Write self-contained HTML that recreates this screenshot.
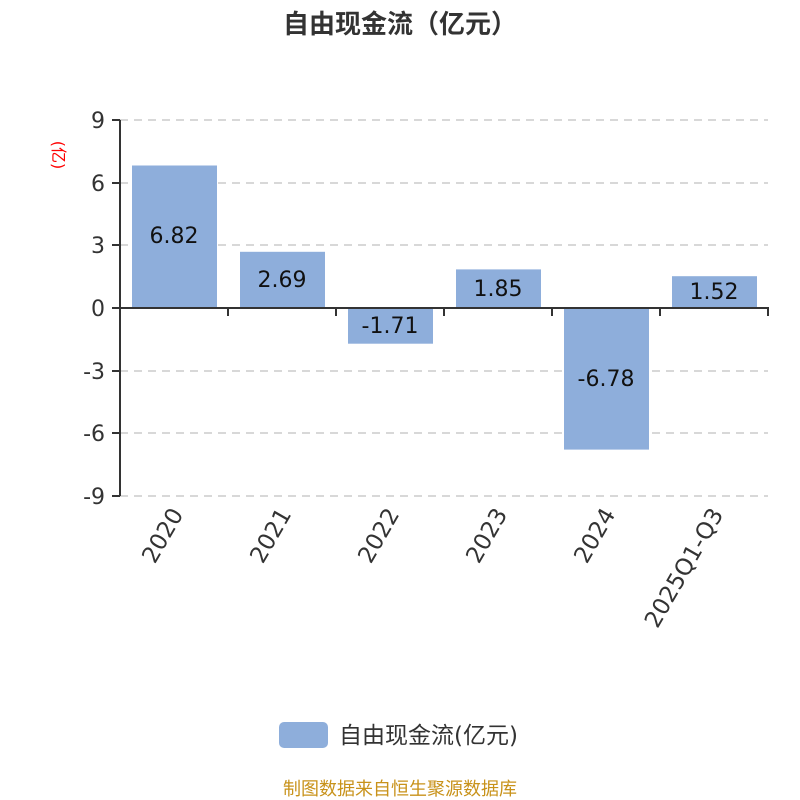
<!DOCTYPE html>
<html><head><meta charset="utf-8"><style>body{margin:0;background:#fff}svg{display:block}</style></head>
<body>
<svg width="800" height="800" xmlns="http://www.w3.org/2000/svg" font-family="DejaVu Sans, Noto Sans CJK SC, sans-serif">
<rect width="800" height="800" fill="#fff"/>
<text x="400" y="33" text-anchor="middle" font-size="26" font-weight="bold" fill="#333">自由现金流（亿元）</text>
<g stroke="#ccc" stroke-width="1.5" stroke-dasharray="8,6">
<line x1="120" y1="120" x2="768" y2="120"/><line x1="120" y1="183" x2="768" y2="183"/><line x1="120" y1="245" x2="768" y2="245"/>
<line x1="120" y1="371" x2="768" y2="371"/><line x1="120" y1="433" x2="768" y2="433"/><line x1="120" y1="496" x2="768" y2="496"/>
</g>
<g fill="#8eaedb">
<rect x="132" y="165.5" width="85" height="142.5"/>
<rect x="240" y="251.8" width="85" height="56.2"/>
<rect x="348" y="308" width="85" height="35.7"/>
<rect x="456" y="269.4" width="85" height="38.6"/>
<rect x="564" y="308" width="85" height="141.6"/>
<rect x="672" y="276.2" width="85" height="31.8"/>
</g>
<g stroke="#333" stroke-width="2">
<line x1="120" y1="120" x2="120" y2="496"/>
<line x1="112" y1="120" x2="120" y2="120"/><line x1="112" y1="183" x2="120" y2="183"/><line x1="112" y1="245" x2="120" y2="245"/><line x1="112" y1="308" x2="120" y2="308"/><line x1="112" y1="371" x2="120" y2="371"/><line x1="112" y1="433" x2="120" y2="433"/><line x1="112" y1="496" x2="120" y2="496"/>
<line x1="120" y1="308" x2="769" y2="308"/>
<line x1="228" y1="308" x2="228" y2="316"/><line x1="336" y1="308" x2="336" y2="316"/><line x1="444" y1="308" x2="444" y2="316"/><line x1="552" y1="308" x2="552" y2="316"/><line x1="660" y1="308" x2="660" y2="316"/><line x1="768" y1="308" x2="768" y2="316"/>
</g>
<g font-size="22" fill="#333" text-anchor="end">
<text x="105" y="128">9</text><text x="105" y="191">6</text><text x="105" y="253">3</text><text x="105" y="316">0</text><text x="105" y="379">-3</text><text x="105" y="441">-6</text><text x="105" y="504">-9</text>
</g>
<text transform="translate(53,155) rotate(90)" text-anchor="middle" font-size="16" fill="#f00">(亿)</text>
<g font-size="22" fill="#111" text-anchor="middle">
<text x="174" y="243">6.82</text><text x="282" y="287">2.69</text><text x="390" y="333">-1.71</text><text x="498" y="296">1.85</text><text x="606" y="386">-6.78</text><text x="714" y="299">1.52</text>
</g>
<g font-size="23" fill="#333" text-anchor="end">
<text transform="translate(184,514) rotate(-60)">2020</text>
<text transform="translate(292,514) rotate(-60)">2021</text>
<text transform="translate(400,514) rotate(-60)">2022</text>
<text transform="translate(508,514) rotate(-60)">2023</text>
<text transform="translate(616,514) rotate(-60)">2024</text>
<text transform="translate(724,514) rotate(-60)">2025Q1-Q3</text>
</g>
<rect x="279" y="722" width="49" height="26" rx="5" fill="#8eaedb"/>
<text x="339" y="743" font-size="23" fill="#333">自由现金流(亿元)</text>
<text x="400" y="795" text-anchor="middle" font-size="18" fill="#c8921a">制图数据来自恒生聚源数据库</text>
</svg>
</body></html>
